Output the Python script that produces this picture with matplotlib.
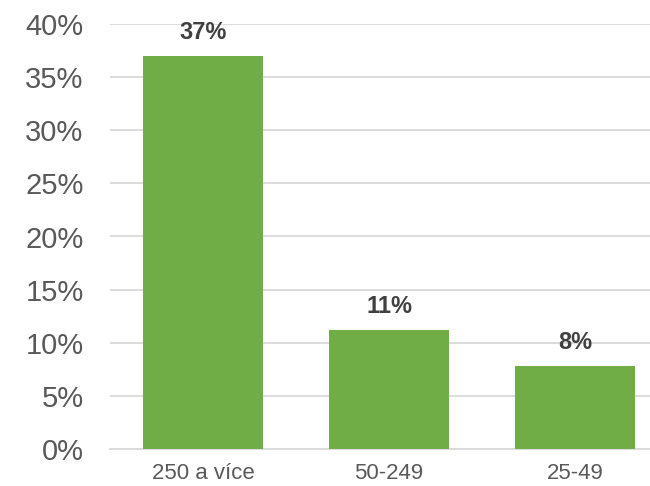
import matplotlib
matplotlib.use("Agg")
import matplotlib.pyplot as plt
from matplotlib.ticker import PercentFormatter

categories = ["250 a více", "50-249", "25-49"]
values = [0.37, 0.112, 0.078]
labels = ["37%", "11%", "8%"]
yticks = [0, 0.05, 0.10, 0.15, 0.20, 0.25, 0.30, 0.35, 0.40]

plt.rcParams['font.family'] = ['Liberation Sans', 'DejaVu Sans']

fig = plt.figure(figsize=(6.5, 4.86), dpi=100)
ax = fig.add_axes([110/650, 37/486, 540/650, 425/486])

x = list(range(len(categories)))
bars = ax.bar(x, values, width=0.645, color="#70AD47", zorder=3)

for xi, v, lab in zip(x, values, labels):
    ax.annotate(lab, (xi, v), xytext=(0, 12), textcoords="offset points",
                ha="center", va="baseline", fontsize=17, fontweight="bold",
                color="#404040")

ax.set_xlim(-0.5, 2.403)
ax.set_ylim(0, 0.40)
ax.set_yticks(yticks)
ax.yaxis.set_major_formatter(PercentFormatter(1.0, decimals=0))
ax.set_xticks(x)
ax.set_xticklabels(categories)

ax.grid(axis="y", color="#D9D9D9", linewidth=1.3, zorder=0)
for s in ["top", "right", "left"]:
    ax.spines[s].set_visible(False)
ax.spines["bottom"].set_color("#D9D9D9")
ax.spines["bottom"].set_linewidth(1.3)
ax.tick_params(axis="y", length=0, labelsize=21, labelcolor="#595959", pad=19)
ax.tick_params(axis="x", length=0, labelsize=16, labelcolor="#595959", pad=10)

fig.savefig("out.png", dpi=100)
